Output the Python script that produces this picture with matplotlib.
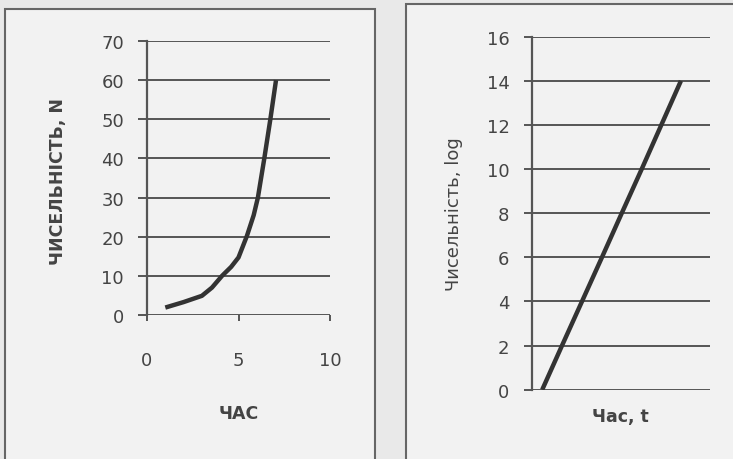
import matplotlib.pyplot as plt
from matplotlib.patches import Rectangle

plt.rcParams['font.family'] = ['DejaVu Sans']

# left chart: population N over time
time_n = [1.0, 2.0, 3.0, 3.55, 4.1, 4.6, 5.0, 5.46, 5.83, 6.06, 6.41, 6.74, 7.05]
pop_n = [1.9, 3.3, 4.9, 7.0, 10, 12.3, 14.7, 20.2, 25.5, 30, 40, 50, 60]

# right chart: log of population over time
time_log = [0.59, 1.70, 2.82, 3.94, 5.05, 6.17, 7.27, 8.37]
pop_log = [0, 2, 4, 6, 8, 10, 12, 14]

left_yticks = [0, 10, 20, 30, 40, 50, 60, 70]
left_xticks = [0, 5, 10]
right_yticks = [0, 2, 4, 6, 8, 10, 12, 14, 16]

line_c = '#333333'
grid_c = '#555555'
txt_c = '#444444'

fig = plt.figure(figsize=(7.33, 4.6), dpi=100)
fig.patch.set_facecolor('#e9e9e9')

# the two framed boxes of the scan, drawn in a background axes
bg = fig.add_axes([0, 0, 1, 1], zorder=-5)
bg.set_xlim(0, 733)
bg.set_ylim(460, 0)
bg.axis('off')
bg.add_patch(Rectangle((5, 10), 370, 470, facecolor='#f2f2f2',
                       edgecolor='#666666', lw=1.5))
bg.add_patch(Rectangle((406, 5), 340, 470, facecolor='#f2f2f2',
                       edgecolor='#666666', lw=1.5))

##left plot
ax1 = fig.add_axes([147 / 733, 1 - 316 / 460, 183 / 733, 274 / 460])
ax1.set_facecolor('none')
ax1.plot(time_n, pop_n, color=line_c, lw=3.2, solid_capstyle='butt',
         solid_joinstyle='round', zorder=3)
ax1.set_xlim(0, 10)
ax1.set_ylim(0, 70)
ax1.set_yticks(left_yticks)
ax1.set_xticks(left_xticks)
for y in left_yticks:
    ax1.axhline(y, color=grid_c, lw=1.4, zorder=1)
for s in ['top', 'right', 'bottom']:
    ax1.spines[s].set_visible(False)
ax1.spines['left'].set_color(grid_c)
ax1.spines['left'].set_linewidth(1.6)
ax1.tick_params(axis='y', direction='out', length=6.5, width=1.4, color=grid_c,
                pad=10, labelsize=13, labelcolor=txt_c)
ax1.tick_params(axis='x', direction='out', length=4, width=1.4, color=grid_c,
                pad=22, labelsize=13, labelcolor=txt_c)
ax1.set_ylabel('ЧИСЕЛЬНІСТЬ, N', fontsize=12.5, fontweight='bold', color=txt_c)
ax1.yaxis.set_label_coords(-0.437, 0.49)
ax1.set_xlabel('ЧАС', fontsize=12.5, fontweight='bold', color=txt_c)
ax1.xaxis.set_label_coords(0.503, -0.325)

##right plot
ax2 = fig.add_axes([531.7 / 733, 1 - 390.7 / 460, 178.3 / 733, 353 / 460])
ax2.set_facecolor('none')
ax2.plot(time_log, pop_log, color=line_c, lw=3.2, solid_capstyle='butt',
         solid_joinstyle='round', zorder=3)
ax2.set_xlim(0, 10)
ax2.set_ylim(0, 16)
ax2.set_yticks(right_yticks)
ax2.set_xticks([])
for y in right_yticks:
    ax2.axhline(y, color=grid_c, lw=1.4, zorder=1)
for s in ['top', 'right', 'bottom']:
    ax2.spines[s].set_visible(False)
ax2.spines['left'].set_color(grid_c)
ax2.spines['left'].set_linewidth(1.6)
ax2.tick_params(axis='y', direction='out', length=6, width=1.4, color=grid_c,
                pad=10, labelsize=13, labelcolor=txt_c)
ax2.set_ylabel('Чисельність, log', fontsize=13, color=txt_c)
ax2.yaxis.set_label_coords(-0.385, 0.5)
ax2.set_xlabel('Час, t', fontsize=12.5, fontweight='bold', color=txt_c)
ax2.xaxis.set_label_coords(0.5, -0.049)

fig.savefig('out.png', dpi=100, facecolor=fig.get_facecolor())
